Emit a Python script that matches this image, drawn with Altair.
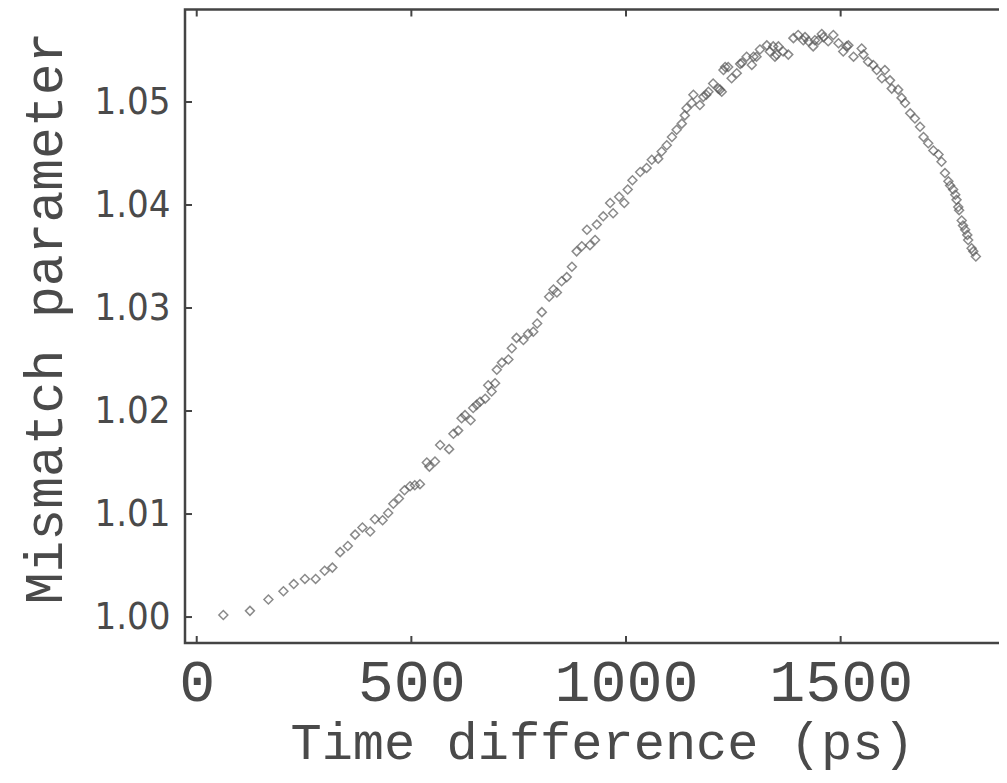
import altair as alt
import pandas as pd

# ---- data ----
time_ps = [62, 124, 167, 202, 226, 252, 277, 298, 316, 334, 352, 369, 386, 404, 415,
           433, 446, 458, 471, 484, 497, 508, 520, 536, 542, 555, 567, 588, 598, 609,
           617, 625, 638, 644, 652, 660, 672, 679, 687, 695, 699, 711, 726, 734, 745,
           761, 772, 784, 793, 804, 821, 831, 839, 850, 862, 874, 885, 897, 909, 916,
           928, 932, 947, 963, 970, 984, 996, 1004, 1015, 1033, 1048, 1060, 1075, 1083,
           1095, 1107, 1118, 1130, 1137, 1141, 1153, 1157, 1172, 1180, 1187, 1192, 1203,
           1215, 1219, 1223, 1227, 1231, 1238, 1246, 1258, 1266, 1270, 1281, 1293, 1297,
           1304, 1312, 1328, 1335, 1343, 1347, 1351, 1355, 1366, 1378, 1390, 1401, 1413,
           1417, 1425, 1436, 1440, 1448, 1456, 1460, 1471, 1483, 1495, 1506, 1514, 1518,
           1530, 1549, 1553, 1564, 1576, 1584, 1596, 1603, 1615, 1619, 1634, 1642, 1650,
           1662, 1673, 1685, 1693, 1704, 1716, 1728, 1735, 1743, 1751, 1755, 1762, 1767,
           1770, 1774, 1776, 1782, 1785, 1790, 1795, 1797, 1805, 1809, 1815]
mismatch = [1.0002, 1.0006, 1.0017, 1.0025, 1.0032, 1.0037, 1.0037, 1.0045, 1.0048,
            1.0063, 1.0069, 1.0080, 1.0087, 1.0083, 1.0095, 1.0094, 1.0101, 1.0110,
            1.0115, 1.0123, 1.0127, 1.0128, 1.0129, 1.0150, 1.0146, 1.0151, 1.0167,
            1.0163, 1.0178, 1.0181, 1.0193, 1.0196, 1.0191, 1.0203, 1.0206, 1.0209,
            1.0212, 1.0225, 1.0219, 1.0227, 1.0240, 1.0247, 1.0250, 1.0261, 1.0271,
            1.0269, 1.0275, 1.0277, 1.0285, 1.0296, 1.0311, 1.0318, 1.0315, 1.0326,
            1.0330, 1.0340, 1.0355, 1.0360, 1.0376, 1.0361, 1.0366, 1.0381, 1.0389,
            1.0402, 1.0392, 1.0408, 1.0402, 1.0415, 1.0424, 1.0432, 1.0436, 1.0444,
            1.0445, 1.0452, 1.0458, 1.0466, 1.0473, 1.0479, 1.0487, 1.0494, 1.0499,
            1.0507, 1.0497, 1.0505, 1.0507, 1.0510, 1.0518, 1.0513, 1.0512, 1.0510,
            1.0531, 1.0534, 1.0534, 1.0523, 1.0528, 1.0537, 1.0538, 1.0544, 1.0536,
            1.0544, 1.0544, 1.0551, 1.0555, 1.0549, 1.0554, 1.0544, 1.0546, 1.0554,
            1.0549, 1.0546, 1.0562, 1.0565, 1.0560, 1.0563, 1.0559, 1.0554, 1.0560,
            1.0560, 1.0566, 1.0563, 1.0559, 1.0565, 1.0557, 1.0549, 1.0554, 1.0555,
            1.0544, 1.0552, 1.0546, 1.0539, 1.0536, 1.0531, 1.0523, 1.0531, 1.0521,
            1.0513, 1.0512, 1.0504, 1.0499, 1.0489, 1.0484, 1.0476, 1.0466, 1.0460,
            1.0453, 1.0449, 1.0442, 1.0431, 1.0423, 1.0419, 1.0415, 1.0410, 1.0405,
            1.0398, 1.0395, 1.0385, 1.0380, 1.0376, 1.0371, 1.0366, 1.0358, 1.0355,
            1.0350]
x_ticks = [0, 500, 1000, 1500]
y_ticks = [1.00, 1.01, 1.02, 1.03, 1.04, 1.05]

W, H = 825, 633.5
xdom = [-27.3, 1894.5]
ydom = [0.99748, 1.05898]
INK = "#444444"
TXT = "#4a4a4a"
MONO = "Liberation Mono, DejaVu Sans Mono, monospace"
NARROW = "Liberation Sans Narrow, DejaVu Sans Condensed, Liberation Sans, sans-serif"

df = pd.DataFrame({"t": time_ps, "m": mismatch})
xt = pd.DataFrame({"t": x_ticks})
yt = pd.DataFrame({"m": y_ticks})

xs = alt.Scale(domain=xdom, nice=False, zero=False)
ys = alt.Scale(domain=ydom, nice=False, zero=False)

x_axis = alt.Axis(values=x_ticks, format="d", title="Time difference (ps)")
y_axis = alt.Axis(values=y_ticks, format=".2f", title="Mismatch parameter")

points = alt.Chart(df).mark_point(shape="diamond", size=80, filled=False,
                                  stroke="#5a5a5a", strokeWidth=1.5).encode(
    x=alt.X("t:Q", scale=xs, axis=x_axis),
    y=alt.Y("m:Q", scale=ys, axis=y_axis),
)

TL = 7
bottom_ticks = alt.Chart(xt).mark_rule(color=INK, strokeWidth=2).encode(
    x=alt.X("t:Q", scale=xs, axis=x_axis), y=alt.value(H), y2=alt.value(H - TL))
top_ticks = alt.Chart(xt).mark_rule(color=INK, strokeWidth=2).encode(
    x=alt.X("t:Q", scale=xs, axis=x_axis), y=alt.value(0), y2=alt.value(TL))
left_ticks = alt.Chart(yt).mark_rule(color=INK, strokeWidth=2).encode(
    y=alt.Y("m:Q", scale=ys, axis=y_axis), x=alt.value(0), x2=alt.value(TL))
right_ticks = alt.Chart(yt).mark_rule(color=INK, strokeWidth=2).encode(
    y=alt.Y("m:Q", scale=ys, axis=y_axis), x=alt.value(W - TL), x2=alt.value(W))

chart = alt.layer(points, bottom_ticks, top_ticks, left_ticks, right_ticks).properties(
    width=W, height=H,
    autosize=alt.AutoSizeParams(type="none"),
    padding={"left": 177, "top": 1.5, "right": -11, "bottom": 132},
    background="white",
).configure_view(
    stroke=INK, strokeWidth=2.5
).configure_axisX(
    ticks=False, tickSize=0, domain=False, grid=False,
    labelFont=MONO, labelFontSize=60, labelColor=TXT,
    labelBaseline="alphabetic", labelPadding=57, labelFlush=False,
    labelOverlap=False, labelBound=False,
    titleFont=MONO, titleFontSize=52, titleFontWeight="normal",
    titleColor=TXT, titleBaseline="alphabetic", titleAlign="center",
    titleX=417, titleY=115,
).configure_axisY(
    ticks=False, tickSize=0, domain=False, grid=False,
    labelFont=NARROW, labelFontSize=38, labelColor=TXT,
    labelAlign="right", labelBaseline="middle", labelPadding=15,
    labelOverlap=False, labelBound=False, labelFlush=False,
    titleFont=MONO, titleFontSize=53, titleFontWeight="normal",
    titleColor=TXT, titleAngle=270, titleBaseline="middle", titleAlign="center",
    titleX=-140, titleY=308,
)

chart.save("out.html", embed_options={"renderer": "svg", "actions": False})
